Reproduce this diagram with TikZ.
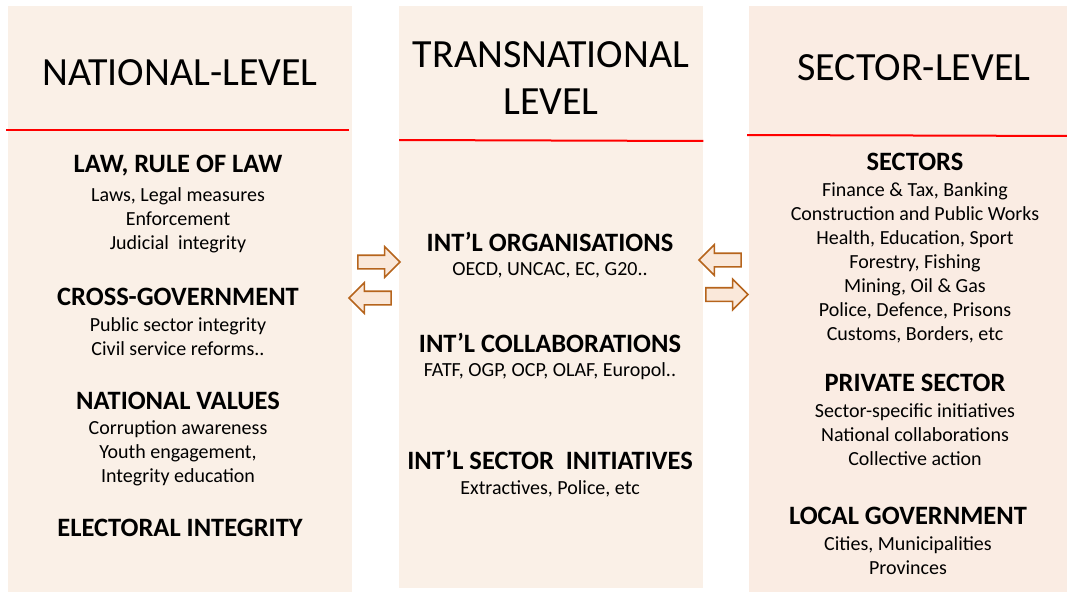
\documentclass[tikz,border=0pt]{standalone}
\usepackage{fontspec}
\setmainfont{Carlito}
\usetikzlibrary{shapes.arrows}
\definecolor{panelfill}{RGB}{250,240,231}
\definecolor{sectorfill}{RGB}{250,236,227}
\definecolor{arrowedge}{RGB}{182,100,28}
\definecolor{arrowfill}{RGB}{250,232,218}
\tikzset{
    level-panel/.style = {fill=panelfill, rectangle, inner sep=0pt, anchor=north west},
    level-title/.style = {font=\fontsize{40}{47}\selectfont, align=center, inner sep=0pt},
    item-head/.style = {font=\bfseries\fontsize{26.5}{30}\selectfont, inner sep=0pt},
    item-text/.style = {font=\fontsize{20}{24}\selectfont, align=center, inner sep=0pt},
    red-rule/.style = {draw=red, line width=2pt},
    block-arrow/.style = {single arrow, draw=arrowedge, fill=arrowfill, line width=1.6pt, inner xsep=0pt, inner ysep=6pt,
        minimum height=42pt, minimum width=29pt, single arrow head extend=8.5pt},
}

\begin{document}
\begin{tikzpicture}[x=1pt, y=-1pt]
\useasboundingbox (0,0) rectangle (1067,591);

% the three panels
\node[level-panel, minimum width=344pt, minimum height=590pt] (national) at (8,6) {};
\node[level-panel, minimum width=304pt, minimum height=582pt] (transnational) at (399,6) {};
\node[level-panel, fill=sectorfill, minimum width=330pt, minimum height=590pt] (sector) at (749,6) {};

\draw[red-rule] ([xshift=-2pt, yshift=-124pt]national.north west) -- ([xshift=-3pt, yshift=-124pt]national.north east);
\draw[red-rule] ([yshift=-134pt]transnational.north west) -- ([yshift=-135pt]transnational.north east);
\draw[red-rule] ([xshift=-2pt, yshift=-129pt]sector.north west) -- ([yshift=-130pt]sector.north east);

% national level
\node[level-title] (national-title) at (180,73) {NATIONAL-LEVEL};
\node[item-head] (law-head) at (178,166) {LAW, RULE OF LAW};
\node[item-text] (law-text) at (178,220) {Laws, Legal measures\\Enforcement\\Judicial\ \ integrity};
\node[item-head] (gov-head) at (178,297) {CROSS-GOVERNMENT};
\node[item-text] (gov-text) at (178,337) {Public sector integrity\\Civil service reforms..};
\node[item-head] (values-head) at (178,401) {NATIONAL VALUES};
\node[item-text] (values-text) at (178,453) {Corruption awareness\\Youth engagement,\\Integrity education};
\node[item-head] (electoral-head) at (180,528) {ELECTORAL INTEGRITY};

% transnational level
\node[level-title] (trans-title) at (551,78) {TRANSNATIONAL\\LEVEL};
\node[item-head] (org-head) at (550,242) {INT’L ORGANISATIONS};
\node[item-text] (org-text) at (550,270) {OECD, UNCAC, EC, G20..};
\node[item-head] (collab-head) at (550,343) {INT’L COLLABORATIONS};
\node[item-text] (collab-text) at (550,371) {FATF, OGP, OCP, OLAF, Europol..};
\node[item-head] (init-head) at (550,460) {INT’L SECTOR\ \ INITIATIVES};
\node[item-text] (init-text) at (550,489) {Extractives, Police, etc};

% sector level
\node[level-title] (sector-title) at (914,68) {SECTOR-LEVEL};
\node[item-head] (sectors-head) at (915,162) {SECTORS};
\node[item-text] (sectors-text) at (915,263) {Finance \& Tax, Banking\\Construction and Public Works\\Health, Education, Sport\\Forestry, Fishing\\Mining, Oil \& Gas\\Police, Defence, Prisons\\Customs, Borders, etc};
\node[item-head] (private-head) at (915,383) {PRIVATE SECTOR};
\node[item-text] (private-text) at (915,435) {Sector-specific initiatives\\National collaborations\\Collective action};
\node[item-head] (local-head) at (908,516) {LOCAL GOVERNMENT};
\node[item-text] (local-text) at (908,555.5) {Cities, Municipalities\\Provinces};

% arrows between the levels
\node[block-arrow] (nat-to-trans) at (375.5,262) {};
\node[block-arrow, shape border rotate=180] (trans-to-nat) at (373.5,298) {};
\node[block-arrow, shape border rotate=180] (sector-to-trans) at (723.5,260) {};
\node[block-arrow] (trans-to-sector) at (723.5,294.5) {};
\end{tikzpicture}
\end{document}
